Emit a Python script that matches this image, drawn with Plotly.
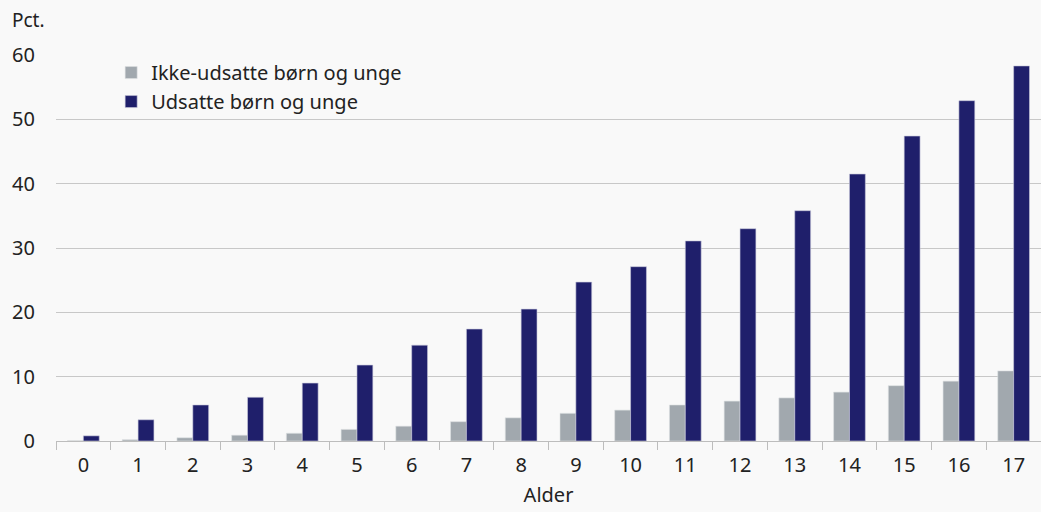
import plotly.graph_objects as go

ages = [str(i) for i in range(18)]
ikke_udsatte = [0.05, 0.2, 0.5, 0.9, 1.2, 1.8, 2.3, 3.0, 3.6, 4.3, 4.8, 5.6, 6.2, 6.7, 7.6, 8.6, 9.3, 10.9]
udsatte = [0.8, 3.3, 5.6, 6.8, 9.0, 11.8, 14.9, 17.4, 20.5, 24.7, 27.1, 31.1, 33.0, 35.8, 41.5, 47.4, 52.9, 58.3]
y_ticks = [0, 10, 20, 30, 40, 50, 60]

FONT = "Noto Sans"
TXT = "#222222"
BG = "#f9f9f9"

fig = go.Figure()
fig.add_trace(go.Bar(x=ages, y=ikke_udsatte, name="Ikke-udsatte børn og unge",
                     marker=dict(color="#a1a8ae", line=dict(color="#dde0e3", width=0.6))))
fig.add_trace(go.Bar(x=ages, y=udsatte, name="Udsatte børn og unge",
                     marker=dict(color="#1f1f6b", line=dict(color="#c9c9dc", width=0.6))))

fig.update_layout(
    width=1041, height=512,
    margin=dict(l=56, r=0, t=55, b=71),
    paper_bgcolor=BG, plot_bgcolor=BG,
    barmode="group", bargap=0.42, bargroupgap=0,
    font=dict(family=FONT, color=TXT, size=20),
    showlegend=True,
    legend=dict(x=0.056, y=1.005, xanchor="left", yanchor="top",
                bgcolor="rgba(0,0,0,0)", font=dict(size=20, color=TXT),
                tracegroupgap=0, itemwidth=30),
    xaxis=dict(type="category", range=[-0.5, 17.5], showgrid=False,
               showline=True, linecolor="#bdbdbd", linewidth=1,
               ticks="outside", tickson="boundaries", ticklen=8, tickcolor="#bdbdbd",
               tickfont=dict(size=20, color=TXT), ticklabelstandoff=6,
               title=dict(text="Alder", font=dict(size=20, color=TXT), standoff=10)),
    yaxis=dict(range=[0, 60], tickvals=y_ticks, showgrid=True, gridcolor="#c8c8c8",
               gridwidth=1, zeroline=False, showline=False, ticks="",
               tickfont=dict(size=20, color=TXT), ticklabelstandoff=20),
    annotations=[dict(text="Pct.", xref="paper", yref="paper", x=-0.047, y=1.0,
                      xanchor="left", yanchor="bottom", yshift=20, showarrow=False,
                      font=dict(size=19, color=TXT))],
)

fig.write_html("out.html")
